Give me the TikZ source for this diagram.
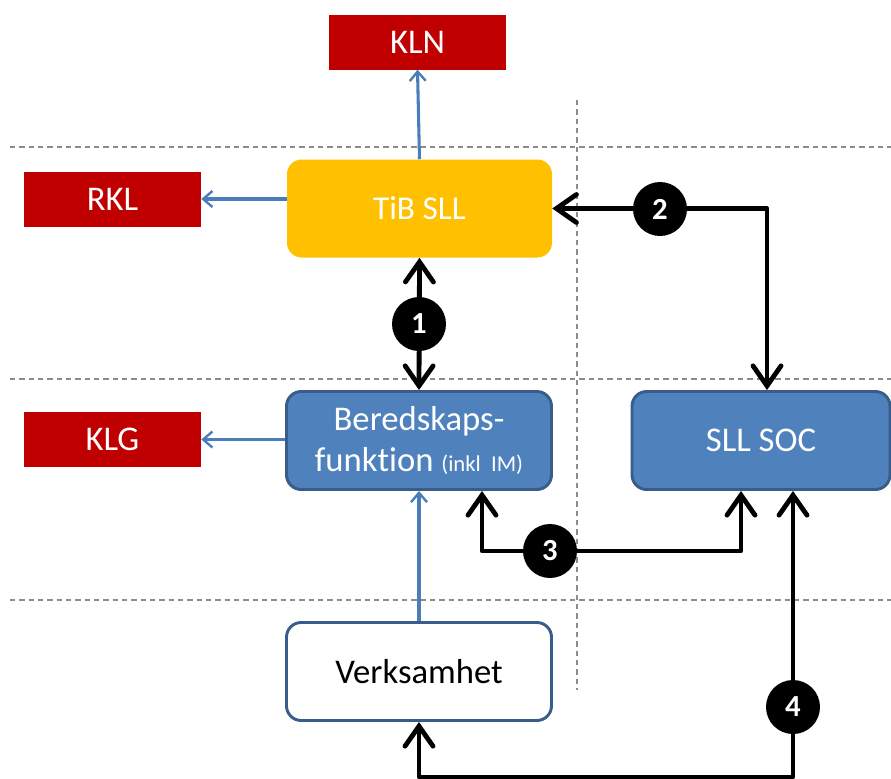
\documentclass[tikz,border=0pt]{standalone}
\usepackage{fontspec}
\setmainfont[Ligatures=NoCommon]{Carlito}
\usetikzlibrary{arrows.meta,calc}
\definecolor{redbox}{HTML}{C00000}
\definecolor{goldbox}{HTML}{FFC000}
\definecolor{bluebox}{HTML}{4F81BD}
\definecolor{blueedge}{HTML}{385D8A}
\definecolor{bluearrow}{HTML}{4A7EBB}
\definecolor{grid}{HTML}{8C8C8C}
\tikzset{
  x=0.75pt, y=-0.75pt,
  redtag/.style={fill=redbox, text=white, minimum width=177*0.75pt, minimum height=55*0.75pt, inner sep=0pt, font=\fontsize{26}{30}\selectfont},
  mainbox/.style={rounded corners=11pt, minimum width=265*0.75pt, minimum height=98*0.75pt, inner sep=0pt, align=center, font=\fontsize{26}{31}\selectfont},
  bluenode/.style={mainbox, fill=bluebox, draw=blueedge, line width=2.2pt, text=white},
  goldnode/.style={mainbox, fill=goldbox, text=white, font=\fontsize{25}{31}\selectfont},
  whitenode/.style={mainbox, fill=white, draw=blueedge, line width=2.2pt, text=black},
  gridline/.style={draw=grid, line width=0.9pt, dash pattern=on 4pt off 3pt},
  thinarrow/.style={draw=bluearrow, line width=2.3pt, -{Straight Barb[length=7pt,width=12pt,line width=1.8pt]}},
  thickline/.style={draw=black, line width=3.6pt, line cap=round, line join=round},
  bigtip/.style={{Straight Barb[length=15pt,width=21pt,line width=3.6pt, line cap=round]}-{Straight Barb[length=15pt,width=21pt,line width=3.6pt, line cap=round]}},
  badge/.style={circle, fill=black, text=white, minimum size=54*0.75pt, inner sep=0pt, font=\fontsize{23}{23}\selectfont\bfseries},
}
\begin{document}
\begin{tikzpicture}
\useasboundingbox (0,0) rectangle (891,778);
% grid lines
\draw[gridline] (10,147) -- (891,147);
\draw[gridline] (10,379) -- (891,379);
\draw[gridline] (10,600) -- (891,600);
\draw[gridline] (577,100) -- (577,690);
% nodes
\node[redtag] (kln) at (417.5,42) {KLN};
\node[redtag] (rkl) at (112.5,199) {RKL};
\node[redtag] (klg) at (112.5,439.5) {KLG};
\node[goldnode] (tib) at (419.5,208.5) {TiB SLL};
\node[bluenode] (ber) at (419,440.5) {Beredskaps-\\funktion {\fontsize{17}{20}\selectfont(inkl\ \ IM)}};
\node[bluenode, minimum width=258*0.75pt] (soc) at (761,440.5) {SLL SOC};
\node[whitenode] (verk) at (419,671.5) {Verksamhet};
% blue arrows
\draw[thinarrow] (tib.north) -- (kln.south);
\draw[thinarrow] (tib.west |- rkl.east) -- (rkl.east);
\draw[thinarrow] (ber.west |- klg.east) -- (klg.east);
\draw[thinarrow] (verk.north) -- (ber.south);
% coordinates
\coordinate (c2) at (767,208.5);
\coordinate (c3a) at (482,551);
\coordinate (c3b) at (741,551);
\coordinate (c4) at (793,777);
% black arrows
\draw[thickline, bigtip] (tib.south) -- (ber.north);
\draw[thickline, bigtip] (tib.east) -- (c2) -- (c2 |- soc.north);
\draw[thickline, bigtip] (c3a |- ber.south) -- (c3a) -- (c3b) -- (c3b |- soc.south);
\draw[thickline, bigtip] (verk.south) -- (verk.south |- c4) -- (c4) -- (c4 |- soc.south);
% badges
\node[badge] (b1) at (419,324) {1};
\node[badge] (b2) at (660,209) {2};
\node[badge] (b3) at (550,551) {3};
\node[badge] (b4) at (793,707) {4};
\end{tikzpicture}
\end{document}
